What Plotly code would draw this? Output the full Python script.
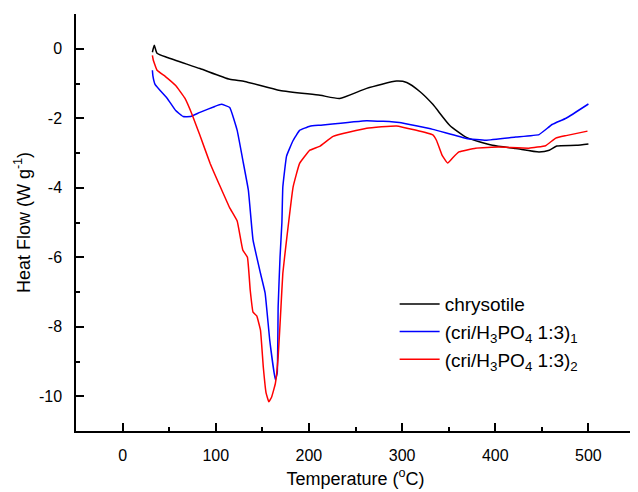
import plotly.graph_objects as go

# chrysotile
t_chr = [32, 34, 37, 48, 83, 115, 131, 169, 212, 233, 262, 294, 305, 319, 333, 351, 369, 397, 422, 447, 458, 466, 487, 500]
h_chr = [-0.1, 0.1, -0.13, -0.25, -0.57, -0.88, -0.94, -1.2, -1.34, -1.43, -1.14, -0.93, -0.97, -1.23, -1.6, -2.2, -2.55, -2.78, -2.87, -2.97, -2.92, -2.8, -2.78, -2.74]

# (cri/H3PO4 1:3)1
t_s1 = [32, 32.5, 35, 48, 57, 65, 73, 83, 99, 106, 115, 123, 129, 135, 140, 148, 153, 158, 164, 166, 167, 169, 171, 172, 176, 183, 190, 201, 212, 262, 297, 333, 369, 390, 422, 447, 461, 476, 500]
h_s1 = [-0.62, -0.77, -1.03, -1.43, -1.78, -1.95, -1.95, -1.83, -1.66, -1.6, -1.69, -2.35, -3.2, -4.07, -5.5, -6.46, -7.03, -8.4, -9.53, -9.33, -7.4, -6.0, -5.0, -3.98, -3.09, -2.64, -2.35, -2.23, -2.2, -2.07, -2.12, -2.32, -2.58, -2.63, -2.54, -2.47, -2.18, -2.0, -1.59]

# (cri/H3PO4 1:3)2
t_s2 = [32, 33, 37, 46, 57, 67, 75, 83, 94, 105, 115, 123, 129, 134, 137, 140, 144, 148, 151, 154, 157, 160, 164, 167, 170, 172, 176, 183, 190, 201, 212, 226, 262, 294, 333, 337, 343, 349, 354, 361, 379, 404, 436, 454, 465, 476, 499]
h_s2 = [-0.19, -0.33, -0.62, -0.8, -1.06, -1.43, -1.92, -2.49, -3.3, -3.98, -4.58, -4.96, -5.79, -6.0, -6.95, -7.58, -7.69, -8.1, -9.15, -9.9, -10.16, -10.02, -9.63, -8.87, -7.43, -6.46, -5.5, -3.98, -3.3, -2.92, -2.8, -2.52, -2.29, -2.22, -2.48, -2.64, -3.07, -3.29, -3.15, -2.97, -2.86, -2.83, -2.86, -2.79, -2.57, -2.5, -2.37]

x_ticks = [0, 100, 200, 300, 400, 500]
y_ticks = [0, -2, -4, -6, -8, -10]

FONT = "Liberation Sans, Arial"

fig = go.Figure()
fig.add_trace(go.Scatter(x=t_chr, y=h_chr, mode="lines", name="chrysotile",
                         line=dict(color="#000000", width=1.5, shape="spline", smoothing=0.5)))
fig.add_trace(go.Scatter(x=t_s1, y=h_s1, mode="lines", name="(cri/H<sub>3</sub>PO<sub>4</sub> 1:3)<sub>1</sub>",
                         line=dict(color="#0000FF", width=1.5, shape="spline", smoothing=0.3)))
fig.add_trace(go.Scatter(x=t_s2, y=h_s2, mode="lines", name="(cri/H<sub>3</sub>PO<sub>4</sub> 1:3)<sub>2</sub>",
                         line=dict(color="#FF0000", width=1.5, shape="spline", smoothing=0.3)))

axis_common = dict(showline=True, linecolor="black", linewidth=1.5, ticks="inside", ticklen=8,
                   tickwidth=1.5, tickcolor="black", showgrid=False, zeroline=False, automargin=False,
                   ticklabelstandoff=9,
                   tickfont=dict(family=FONT, size=16, color="black"),
                   minor=dict(ticks="inside", ticklen=4, tickwidth=1.5, tickcolor="black", showgrid=False))

fig.update_xaxes(range=[-50, 550], tickvals=x_ticks, ticktext=[str(v) for v in x_ticks],
                 title=dict(text="Temperature (<sup>o</sup>C)", font=dict(family=FONT, size=18, color="black"), standoff=9),
                 **axis_common)
fig.update_xaxes(minor_dtick=50, minor_tick0=0)
fig.update_yaxes(range=[-11, 1], tickvals=y_ticks, ticktext=[str(v) for v in y_ticks],
                 title=dict(text="Heat Flow (W g<sup>-1</sup>)", font=dict(family=FONT, size=18, color="black"), standoff=4),
                 **axis_common)
fig.update_yaxes(minor_dtick=1, minor_tick0=0)

# page body has an 8px margin, so the figure is sized/offset to compensate
fig.update_layout(
    width=630, height=484,
    margin=dict(l=68, r=3, t=6, b=61),
    plot_bgcolor="white", paper_bgcolor="white",
    font=dict(family=FONT, color="black"),
    legend=dict(x=0.57, y=0.35, xanchor="left", yanchor="top", bgcolor="rgba(0,0,0,0)",
                font=dict(family=FONT, size=19, color="black"),
                tracegroupgap=0, itemwidth=40),
)

fig.write_html("out.html")
